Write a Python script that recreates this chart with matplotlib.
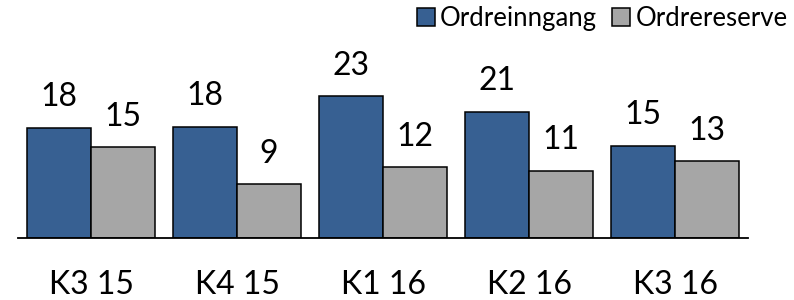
import matplotlib.pyplot as plt
import numpy as np

plt.rcParams['font.family'] = ['Lato', 'DejaVu Sans']

quarters = ['K3 15', 'K4 15', 'K1 16', 'K2 16', 'K3 16']
ordreinngang = [18.1, 18.2, 23.2, 20.7, 15.1]
ordrereserve = [14.9, 8.8, 11.6, 11.0, 12.6]

blue = '#376092'
gray = '#A6A6A6'

fig = plt.figure(figsize=(7.94, 3.0), dpi=100)
ax = fig.add_axes([18 / 794, 62 / 300, 730 / 794, 238 / 300])

x = np.arange(len(quarters))
w = 0.435
b1 = ax.bar(x - w / 2, ordreinngang, w, color=blue, edgecolor='black',
            linewidth=1.1, label='Ordreinngang')
b2 = ax.bar(x + w / 2, ordrereserve, w, color=gray, edgecolor='black',
            linewidth=1.1, label='Ordrereserve')

# value labels above bars
for bars, vals in [(b1, ordreinngang), (b2, ordrereserve)]:
    for bar, v in zip(bars, vals):
        ax.annotate(f'{v:.0f}', (bar.get_x() + bar.get_width() / 2, v),
                    xytext=(0, 15.5), textcoords='offset points',
                    ha='center', va='baseline', fontsize=23)

ax.set_xlim(-0.5, len(quarters) - 0.5)
ax.set_ylim(0, 39)
ax.set_xticks(x)
ax.set_xticklabels(quarters, fontsize=23)
ax.tick_params(axis='x', length=0, pad=23)
ax.set_yticks([])
for s in ['left', 'right', 'top']:
    ax.spines[s].set_visible(False)
ax.spines['bottom'].set_linewidth(1.3)

fig.legend(handles=[b1, b2], loc='upper right', bbox_to_anchor=(1.0, 1.0),
           ncol=2, frameon=False, fontsize=18.5, handlelength=0.7,
           handleheight=0.7, handletextpad=0.2, columnspacing=0.6,
           borderaxespad=0.0, borderpad=0.25)

fig.savefig('out.png', dpi=100)
